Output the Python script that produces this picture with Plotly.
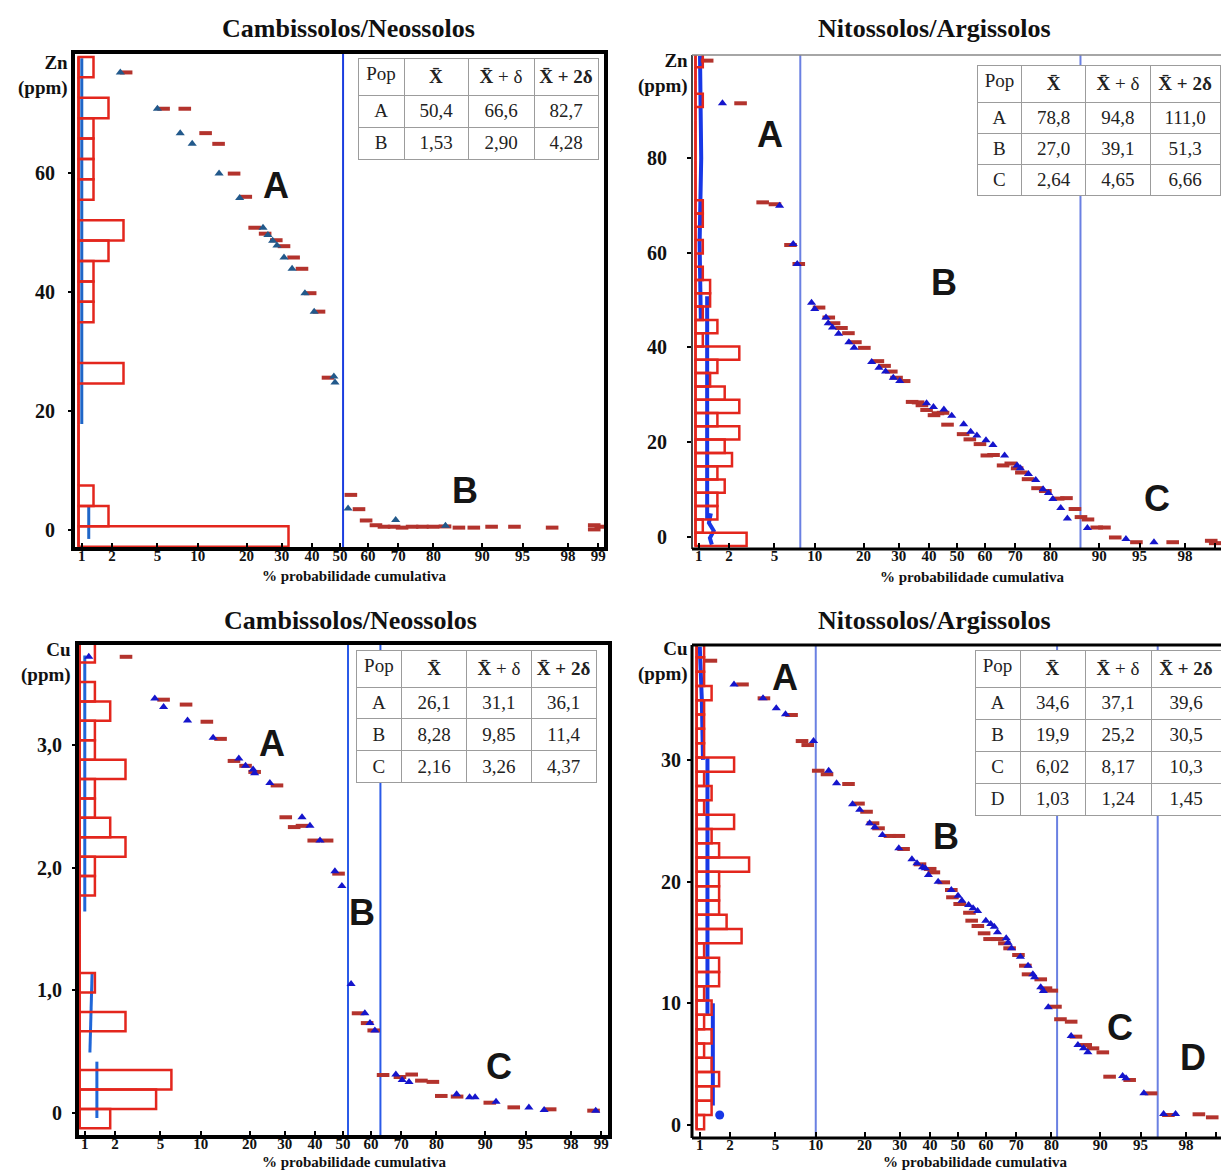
import plotly.graph_objects as go
from statistics import NormalDist

W, H = 1221, 1171
_nd = NormalDist()


def probit(p):
    return _nd.inv_cdf(p / 100.0)


PROB_TICKS = [1, 2, 5, 10, 20, 30, 40, 50, 60, 70, 80, 90, 95, 98, 99]
NB = "\u00a0"
TABLE_HEADER = ["Pop", "<b>X\u0304</b>", "<b>X\u0304</b>" + NB + "+" + NB + "δ",
                "<b>X\u0304" + NB + "+" + NB + "2δ</b>"]

# ---------------- Panel 1 : Zn, Cambissolos/Neossolos ----------------
ZN_CN_TRI_P = [2.39, 5.0, 7.5, 9.15, 13.8, 18.3, 24.4, 25.8, 27.2, 28.5, 30.7, 33.3, 37.6, 40.8,
               47.8, 48.2, 52.9, 69.2, 82.9]
ZN_CN_TRI_V = [76.9, 70.8, 66.7, 64.9, 59.9, 55.8, 50.8, 49.6, 48.6, 47.8, 45.8, 43.9, 39.8, 36.7,
               25.8, 24.8, 3.6, 1.7, 0.7]
ZN_CN_RED_P = [2.7, 5.6, 8.1, 11.3, 13.7, 17.0, 19.8, 22.1, 25.0, 28.3, 30.7, 33.8, 36.6, 39.4, 42.5,
               45.7, 53.9, 56.8, 59.3, 62.7, 65.4, 68.7, 71.2, 74.2, 77.1, 79.9, 82.8, 85.8, 88.6,
               91.4, 94.2, 97.2, 98.9, 98.9, 99.06]
ZN_CN_RED_V = [76.9, 70.8, 70.8, 66.7, 64.9, 59.9, 56.0, 50.8, 49.8, 48.7, 47.7, 45.8, 43.9, 39.8, 36.7,
               25.6, 5.9, 3.5, 1.6, 0.8, 0.55, 0.55, 0.4, 0.55, 0.55, 0.55, 0.6, 0.4, 0.4,
               0.55, 0.55, 0.4, 0.8, 0.1, 0.55]
ZN_CN_HIST_START = -2.81
ZN_CN_HIST_BIN = 3.43
ZN_CN_HIST_COUNTS = [14, 2, 1, 0, 0, 0, 0, 0, 3, 0, 0, 1, 1, 1, 2, 3, 0, 1, 1, 1, 1, 2, 0, 1]
ZN_CN_SPLITS = [51.1]
ZN_CN_FIT = [[(1.0, 79.3), (1.0, 17.8)], [(1.18, 3.9), (1.18, -1.5)]]
ZN_CN_TABLE = [["A", "B"], ["50,4", "1,53"], ["66,6", "2,90"], ["82,7", "4,28"]]

# ---------------- Panel 2 : Zn, Nitossolos/Argissolos ----------------
ZN_NA_TRI_P = [1.73, 5.5, 7.0, 7.5, 9.5, 10.0, 11.9, 12.3, 13.1, 14.3, 16.5, 17.7, 22.1, 24.1, 26.0,
               28.3, 30.3, 39.2, 41.6, 45.3, 48.1, 52.4, 54.9, 57.1, 60.3, 62.7, 66.6, 70.6, 71.6,
               74.0, 76.1, 78.1, 79.5, 80.6, 82.5, 84.0, 88.0, 93.6, 96.2]
ZN_NA_TRI_V = [91.5, 69.9, 61.8, 57.6, 49.4, 48.1, 46.3, 45.1, 44.2, 42.9, 41.1, 39.9, 36.9, 35.7, 34.9,
               33.6, 32.9, 28.2, 27.4, 26.9, 25.6, 23.8, 22.2, 21.4, 20.4, 19.4, 17.2, 15.1, 14.5,
               13.3, 12.0, 10.1, 9.3, 8.0, 6.1, 3.9, 1.9, -0.4, -1.1]
ZN_NA_RED_P = [1.22, 2.56, 4.0, 5.05, 6.68, 7.7, 10.7, 12.4, 13.4, 14.9, 16.4, 18.0, 20.2, 23.8, 25.7,
               27.7, 29.3, 31.7, 34.3, 36.3, 37.6, 39.2, 41.8, 43.2, 45.0, 46.6, 52.2, 54.6, 58.2,
               60.6, 62.9, 66.1, 68.6, 70.6, 71.9, 73.9, 76.6, 78.7, 81.9, 83.8, 85.6, 86.8, 88.1,
               89.6, 90.8, 92.3, 94.7, 97.4, 98.9, 99.0]
ZN_NA_RED_V = [100.5, 91.5, 70.6, 70.2, 61.6, 57.6, 48.4, 46.3, 45.1, 44.1, 43.0, 41.1, 39.9, 37.1, 36.1,
               34.9, 33.6, 32.9, 28.5, 28.4, 27.8, 26.8, 25.7, 26.1, 26.2, 23.7, 21.7, 20.6, 19.6,
               17.2, 17.3, 15.1, 15.5, 14.5, 13.6, 12.2, 10.3, 9.7, 8.1, 8.2, 5.9, 4.2, 3.7,
               2.0, 2.0, -0.1, -1.1, -1.1, -0.8, -1.3]
ZN_NA_HIST_START = -1.9
ZN_NA_HIST_BIN = 2.806
ZN_NA_HIST_COUNTS = [7, 1, 3, 3, 4, 3, 5, 4, 6, 3, 6, 4, 2, 3, 6, 1, 3, 1, 2, 2, 1, 0, 1, 0, 1, 1,
                     0, 0, 0, 0, 0, 0, 0, 1, 0, 0, 1]
ZN_NA_SPLITS = [7.9, 86.7]
ZN_NA_FIT = [[(1.03, 101.5), (1.06, 80.0), (1.02, 62.0), (1.05, 46.0)],
             [(1.22, 50.8), (1.22, 3.6)],
             [(1.33, 5.0), (1.27, 3.0), (1.42, 1.3), (1.30, -0.2), (1.36, -1.6)]]
ZN_NA_TABLE = [["A", "B", "C"], ["78,8", "27,0", "2,64"], ["94,8", "39,1", "4,65"],
               ["111,0", "51,3", "6,66"]]

# ---------------- Panel 3 : Cu, Cambissolos/Neossolos ----------------
CU_CN_TRI_P = [1.10, 4.5, 5.3, 8.07, 12.1, 17.4, 19.0, 20.9, 21.3, 25.5, 35.6, 38.3, 41.8, 47.1, 49.6,
               52.9, 57.8, 59.6, 61.3, 68.3, 70.3, 72.4, 84.7, 87.3, 88.3, 91.6, 95.3, 96.5, 98.86]
CU_CN_TRI_V = [3.72, 3.38, 3.31, 3.20, 3.06, 2.89, 2.83, 2.80, 2.77, 2.69, 2.41, 2.34, 2.22, 1.97, 1.85,
               1.05, 0.81, 0.73, 0.67, 0.31, 0.265, 0.25, 0.15, 0.124, 0.124, 0.088, 0.04, 0.02, 0.015]
CU_CN_RED_P = [2.53, 5.3, 7.87, 11.0, 13.5, 16.3, 19.0, 21.3, 27.6, 30.3, 33.0, 35.6, 39.6, 44.3, 48.4,
               55.4, 58.6, 60.9, 64.1, 69.6, 73.2, 76.0, 79.1, 81.2, 84.8, 90.7, 93.8, 96.9, 98.8]
CU_CN_RED_V = [3.72, 3.37, 3.33, 3.19, 3.05, 2.87, 2.83, 2.78, 2.67, 2.41, 2.33, 2.34, 2.22, 2.22, 1.95,
               0.81, 0.73, 0.67, 0.306, 0.29, 0.31, 0.26, 0.25, 0.135, 0.13, 0.08, 0.042, 0.026, 0.015]
CU_CN_HIST_START = -0.129
CU_CN_HIST_BIN = 0.1584
CU_CN_HIST_COUNTS = [2, 5, 6, 0, 0, 3, 0, 1, 0, 0, 0, 0, 1, 1, 3, 2, 1, 1, 3, 1, 1, 2, 1, 0, 1]
CU_CN_SPLITS = [51.8, 63.2]
CU_CN_FIT = [[(1.0, 3.73), (1.0, 1.64)], [(1.19, 1.14), (1.13, 0.49)], [(1.33, 0.415), (1.33, -0.045)]]
CU_CN_TABLE = [["A", "B", "C"], ["26,1", "8,28", "2,16"], ["31,1", "9,85", "3,26"],
               ["36,1", "11,4", "4,37"]]
CU_CN_YTICKS = [0, 1, 2, 3]
CU_CN_YTEXT = ["0", "1,0", "2,0", "3,0"]

# ---------------- Panel 4 : Cu, Nitossolos/Argissolos ----------------
CU_NA_TRI_P = [2.18, 3.95, 5.08, 6.01, 9.65, 12.2, 13.7, 17.1, 18.8, 21.3, 22.7, 24.8, 29.7, 33.9, 35.6,
               37.5, 38.4, 39.5, 42.9, 47.6, 50.0, 51.4, 53.8, 55.4, 57.0, 59.9, 61.6, 62.8, 63.9,
               66.8, 67.4, 68.5, 71.3, 73.6, 75.0, 75.5, 77.2, 77.9, 79.2, 84.6, 86.0, 87.1, 87.9,
               93.1, 93.5, 95.3, 96.8, 97.5]
CU_NA_TRI_V = [36.2, 35.06, 34.24, 33.75, 31.55, 29.1, 28.08, 26.35, 25.9, 24.8, 24.46, 23.83, 22.74,
               21.83, 21.5, 21.17, 21.09, 20.54, 19.99, 19.31, 18.84, 18.43, 18.07, 17.81, 17.59,
               16.79, 16.52, 16.3, 15.84, 15.34, 14.98, 14.52, 13.83, 13.09, 12.38, 12.14, 11.32,
               11.01, 9.67, 7.31, 6.57, 6.30, 5.97, 4.03, 3.84, 2.61, 0.90, 0.90]
CU_NA_RED_P = [1.30, 2.61, 4.02, 6.69, 8.0, 8.79, 10.4, 11.9, 16.2, 18.5, 20.5, 22.2, 23.7, 27.0, 29.7,
               31.2, 36.6, 40.1, 41.4, 44.9, 47.6, 48.0, 50.6, 54.1, 54.9, 57.1, 59.3, 61.2, 63.9,
               66.2, 67.9, 70.7, 72.8, 73.6, 77.2, 78.6, 80.1, 81.0, 82.2, 84.6, 85.6, 87.5, 88.8,
               90.4, 91.4, 93.9, 95.9, 97.1, 98.5, 98.9]
CU_NA_RED_V = [38.15, 36.2, 35.06, 33.69, 31.55, 31.22, 29.11, 28.82, 28.02, 26.41, 25.74, 24.79, 24.38,
               23.75, 23.75, 22.68, 21.42, 21.04, 20.76, 19.94, 19.31, 18.71, 18.16, 17.44, 16.79,
               16.35, 15.75, 15.28, 15.28, 14.93, 14.52, 13.97, 13.09, 12.38, 11.97, 11.23, 11.04,
               9.72, 8.69, 8.49, 7.26, 6.57, 6.30, 5.97, 3.97, 3.70, 2.60, 0.82, 0.88, 0.63]
CU_NA_HIST_START = -0.35
CU_NA_HIST_BIN = 1.175
CU_NA_HIST_COUNTS = [1, 2, 2, 3, 2, 1, 2, 1, 2, 1, 3, 3, 1, 6, 4, 3, 3, 3, 7, 3, 2, 5, 1, 2, 1, 5,
                     1, 1, 1, 1, 2, 1, 1, 1]
CU_NA_SPLITS = [10.0, 81.4, 96.4]
CU_NA_FIT = [[(1.0, 39.3), (1.05, 35.0), (1.08, 30.0)], [(1.2, 30.2), (1.2, 9.0)],
             [(1.36, 10.0), (1.36, 1.6)]]
CU_NA_BLOB = [(1.59, 0.82)]
CU_NA_TABLE = [["A", "B", "C", "D"], ["34,6", "19,9", "6,02", "1,03"], ["37,1", "25,2", "8,17", "1,24"],
               ["39,6", "30,5", "10,3", "1,45"]]

# ---------------- styling / layout constants ----------------
SERIF = "Liberation Serif"
SANS = "Liberation Sans"
RED = "#b3332d"
HRED = "#e3261d"
XS = 111.0  # pixels per probit unit

PANELS = [
    dict(title="Cambissolos/Neossolos", unit="Zn<br>(ppm)", frame=(73, 52, 606, 549), cx=340,
         y0pix=530, ppu=5.95, yt=[0, 20, 40, 60], ytt=["0", "20", "40", "60"], ystand=9,
         tri_p=ZN_CN_TRI_P, tri_v=ZN_CN_TRI_V, red_p=ZN_CN_RED_P, red_v=ZN_CN_RED_V,
         h0=ZN_CN_HIST_START, hb=ZN_CN_HIST_BIN, hc=ZN_CN_HIST_COUNTS, hleft=78.5, hunit=15.0,
         splits=ZN_CN_SPLITS, fit=ZN_CN_FIT, blob=[], table=ZN_CN_TABLE,
         tri_color="#22598b", fit_color="#1f66c8", fit_w=3, split_color="#1b3ee0",
         tbox=(358, 58, 598, 157), thead=35, trow=32, cw=[46, 64, 66, 64],
         unit_pos=(70, 50), title_pos=(348, 28), xt_pos=(354, 576),
         letters=[("A", 276, 185), ("B", 465, 490)]),
    dict(title="Nitossolos/Argissolos", unit="Zn<br>(ppm)", frame=(692, 55, 1221, 549), cx=957,
         y0pix=537, ppu=4.74, yt=[0, 20, 40, 60, 80], ytt=["0", "20", "40", "60", "80"], ystand=16,
         tri_p=ZN_NA_TRI_P, tri_v=ZN_NA_TRI_V, red_p=ZN_NA_RED_P, red_v=ZN_NA_RED_V,
         h0=ZN_NA_HIST_START, hb=ZN_NA_HIST_BIN, hc=ZN_NA_HIST_COUNTS, hleft=695.5, hunit=7.3,
         splits=ZN_NA_SPLITS, fit=ZN_NA_FIT, blob=[], table=ZN_NA_TABLE,
         tri_color="#1515cc", fit_color="#1838e6", fit_w=4, split_color="#6a80e2",
         tbox=(977, 65, 1221, 192), thead=33, trow=31, cw=[45, 64, 65, 70],
         unit_pos=(690, 48), title_pos=(935, 28), xt_pos=(972, 577),
         letters=[("A", 770, 134), ("B", 944, 282), ("C", 1157, 498)]),
    dict(title="Cambissolos/Neossolos", unit="Cu<br>(ppm)", frame=(77, 643, 610, 1137), cx=343,
         y0pix=1112.5, ppu=122.5, yt=CU_CN_YTICKS, ytt=CU_CN_YTEXT, ystand=6,
         tri_p=CU_CN_TRI_P, tri_v=CU_CN_TRI_V, red_p=CU_CN_RED_P, red_v=CU_CN_RED_V,
         h0=CU_CN_HIST_START, hb=CU_CN_HIST_BIN, hc=CU_CN_HIST_COUNTS, hleft=79.6, hunit=15.3,
         splits=CU_CN_SPLITS, fit=CU_CN_FIT, blob=[], table=CU_CN_TABLE,
         tri_color="#1515cc", fit_color="#1f66d8", fit_w=3, split_color="#2a5ae8",
         tbox=(356, 650, 597, 780), thead=35, trow=31.7, cw=[46, 65, 65, 65],
         unit_pos=(73, 637), title_pos=(350, 620), xt_pos=(354, 1162),
         letters=[("A", 272, 743), ("B", 362, 912), ("C", 499, 1066)]),
    dict(title="Nitossolos/Argissolos", unit="Cu<br>(ppm)", frame=(692, 645, 1221, 1138), cx=958,
         y0pix=1125, ppu=12.17, yt=[0, 10, 20, 30], ytt=["0", "10", "20", "30"], ystand=2,
         tri_p=CU_NA_TRI_P, tri_v=CU_NA_TRI_V, red_p=CU_NA_RED_P, red_v=CU_NA_RED_V,
         h0=CU_NA_HIST_START, hb=CU_NA_HIST_BIN, hc=CU_NA_HIST_COUNTS, hleft=696.6, hunit=7.5,
         splits=CU_NA_SPLITS, fit=CU_NA_FIT, blob=CU_NA_BLOB, table=CU_NA_TABLE,
         tri_color="#1515cc", fit_color="#1838e6", fit_w=4, split_color="#6a80e2",
         tbox=(975, 650, 1221, 812), thead=34, trow=32, cw=[45, 65, 66, 70],
         unit_pos=(690, 636), title_pos=(935, 620), xt_pos=(975, 1162),
         letters=[("A", 785, 677), ("B", 946, 837), ("C", 1120, 1027), ("D", 1193, 1057)]),
]


def fx(x):
    return x / W


def fy(y):
    return 1 - y / H


fig = go.Figure()
layout = {}
shapes = []
annotations = []

for i, P in enumerate(PANELS, start=1):
    sx = "" if i == 1 else str(i)
    xr, yr = "x" + sx, "y" + sx
    hx = "x" + str(i + 4)
    x0, y0, x1, y1 = P["frame"]
    xrange_ = [(x0 - P["cx"]) / XS, (x1 - P["cx"]) / XS]
    yrange_ = [(P["y0pix"] - y1) / P["ppu"], (P["y0pix"] - y0) / P["ppu"]]
    hrange = [(x0 - P["hleft"]) / P["hunit"], (x1 - P["hleft"]) / P["hunit"]]

    layout["xaxis" + sx] = dict(
        domain=[fx(x0), fx(x1)], anchor=yr, range=xrange_, showgrid=False, zeroline=False,
        showline=False, tickvals=[probit(p) for p in PROB_TICKS], ticktext=[str(p) for p in PROB_TICKS],
        ticks="inside", ticklen=6, tickwidth=2, tickcolor="black", ticklabelstandoff=-4,
        tickfont=dict(family=SERIF, size=15, color="#111", weight="bold"))
    layout["yaxis" + sx] = dict(
        domain=[fy(y1), fy(y0)], anchor=xr, range=yrange_, showgrid=False, zeroline=False,
        showline=False, tickvals=P["yt"], ticktext=P["ytt"], ticks="outside", ticklen=4,
        tickwidth=2, tickcolor="black", ticklabelstandoff=P["ystand"],
        tickfont=dict(family=SERIF, size=20, color="#111", weight="bold"))
    layout["xaxis" + str(i + 4)] = dict(overlaying=xr, anchor=yr, range=hrange, visible=False,
                                        showgrid=False, zeroline=False)

    # population split lines
    for p in P["splits"]:
        fig.add_trace(go.Scatter(x=[probit(p), probit(p)], y=yrange_, mode="lines",
                                 line=dict(color=P["split_color"], width=2),
                                 xaxis=xr, yaxis=yr, showlegend=False, hoverinfo="skip"))
    # fitted lines
    for seg in P["fit"]:
        fig.add_trace(go.Scatter(x=[probit(p) for p, _ in seg], y=[v for _, v in seg], mode="lines",
                                 line=dict(color=P["fit_color"], width=P["fit_w"]),
                                 xaxis=xr, yaxis=yr, showlegend=False, hoverinfo="skip"))
    if P["blob"]:
        fig.add_trace(go.Scatter(x=[probit(p) for p, _ in P["blob"]], y=[v for _, v in P["blob"]],
                                 mode="markers", marker=dict(symbol="circle", size=9, color=P["fit_color"]),
                                 xaxis=xr, yaxis=yr, showlegend=False))
    # data points
    fig.add_trace(go.Scatter(x=[probit(p) for p in P["red_p"]], y=P["red_v"], mode="markers",
                             marker=dict(symbol="line-ew", size=9, line=dict(width=4, color=RED)),
                             xaxis=xr, yaxis=yr, showlegend=False))
    fig.add_trace(go.Scatter(x=[probit(p) for p in P["tri_p"]], y=P["tri_v"], mode="markers",
                             marker=dict(symbol="triangle-up", size=8, color=P["tri_color"]),
                             xaxis=xr, yaxis=yr, showlegend=False))
    # histogram
    n = len(P["hc"])
    centers = [P["h0"] + (k + 0.5) * P["hb"] for k in range(n)]
    fig.add_trace(go.Bar(x=P["hc"], y=centers, width=[P["hb"]] * n, base=0, orientation="h",
                         marker=dict(color="rgba(0,0,0,0)", line=dict(color=HRED, width=2.5)),
                         xaxis=hx, yaxis=yr, showlegend=False))
    fig.add_trace(go.Scatter(x=[0, 0], y=[P["h0"], P["h0"] + n * P["hb"]], mode="lines",
                             line=dict(color=HRED, width=2.5), xaxis=hx, yaxis=yr,
                             showlegend=False, hoverinfo="skip"))

    # table
    tx0, ty0, tx1, ty1 = P["tbox"]
    nrows = len(P["table"][0])
    fig.add_trace(go.Table(
        domain=dict(x=[fx(tx0), fx(tx1)], y=[fy(ty0 + P["thead"] + nrows * P["trow"] + 12), fy(ty0)]),
        columnwidth=P["cw"],
        header=dict(values=TABLE_HEADER, height=P["thead"], align="center",
                    font=dict(family=SERIF, size=19, color="#222"),
                    line=dict(color="#9c9c9c", width=1), fill=dict(color="white")),
        cells=dict(values=P["table"], height=P["trow"], align="center",
                   font=dict(family=SERIF, size=19, color="#222"),
                   line=dict(color="#9c9c9c", width=1), fill=dict(color="white"))))

    # annotations
    annotations.append(dict(text=P["title"], x=fx(P["title_pos"][0]), y=fy(P["title_pos"][1]),
                            xref="paper", yref="paper", showarrow=False, xanchor="center", yanchor="middle",
                            font=dict(family=SERIF, size=26, color="#111", weight="bold")))
    annotations.append(dict(text="% probabilidade cumulativa", x=fx(P["xt_pos"][0]), y=fy(P["xt_pos"][1]),
                            xref="paper", yref="paper", showarrow=False, xanchor="center", yanchor="middle",
                            font=dict(family=SERIF, size=15, color="#111", weight="bold")))
    annotations.append(dict(text=P["unit"], x=fx(P["unit_pos"][0]), y=fy(P["unit_pos"][1]),
                            xref="paper", yref="paper", showarrow=False, xanchor="right", yanchor="top",
                            align="right",
                            font=dict(family=SERIF, size=19, color="#111", weight="bold")))
    for txt, lx, ly in P["letters"]:
        annotations.append(dict(text=txt, x=fx(lx), y=fy(ly), xref="paper", yref="paper",
                                showarrow=False, xanchor="center", yanchor="middle",
                                font=dict(family=SANS, size=36, color="#151515", weight="bold")))


def line_shape(xa, ya, xb, yb, width, color="black"):
    return dict(type="line", xref="paper", yref="paper", x0=fx(xa), y0=fy(ya), x1=fx(xb), y1=fy(yb),
                line=dict(color=color, width=width), layer="above")


shapes.append(dict(type="rect", xref="paper", yref="paper", x0=fx(73), y0=fy(549), x1=fx(606), y1=fy(52),
                   line=dict(color="black", width=4), layer="above"))
shapes.append(dict(type="rect", xref="paper", yref="paper", x0=fx(77), y0=fy(1137), x1=fx(610), y1=fy(643),
                   line=dict(color="black", width=4), layer="above"))
shapes.append(line_shape(692, 55, 692, 549, 2, "#444"))
shapes.append(line_shape(692, 55, 1221, 55, 1.5, "#888"))
shapes.append(line_shape(692, 549, 1221, 549, 3))
shapes.append(line_shape(692, 645, 1221, 645, 3))
shapes.append(line_shape(692, 645, 692, 1138, 3))
shapes.append(line_shape(692, 1138, 1221, 1138, 3))

fig.update_layout(
    width=W, height=H, autosize=False, margin=dict(l=0, r=0, t=0, b=0),
    paper_bgcolor="white", plot_bgcolor="white", showlegend=False,
    shapes=shapes, annotations=annotations, **layout)

fig.write_html("out.html", config={"displayModeBar": False},
               post_script="document.body.style.margin='0px';")
